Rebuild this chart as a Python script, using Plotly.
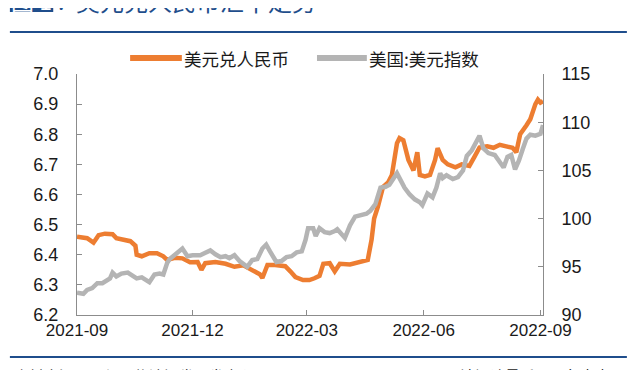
import plotly.graph_objects as go

# USD/CNY (left axis)
cny_dates = ["2021-09-01","2021-09-09","2021-09-14","2021-09-18","2021-09-23","2021-09-29","2021-10-02","2021-10-07",
             "2021-10-13","2021-10-17","2021-10-18","2021-10-22","2021-10-28","2021-11-03","2021-11-08","2021-11-11",
             "2021-11-17","2021-11-23","2021-11-29","2021-12-05","2021-12-08","2021-12-11","2021-12-19","2021-12-27",
             "2021-12-30","2022-01-03","2022-01-10","2022-01-15","2022-01-19","2022-01-23","2022-01-25","2022-01-29",
             "2022-02-04","2022-02-12","2022-02-16","2022-02-20","2022-02-26","2022-03-03","2022-03-07","2022-03-11",
             "2022-03-14","2022-03-19","2022-03-23","2022-03-27","2022-04-04","2022-04-12","2022-04-18","2022-04-21",
             "2022-04-23","2022-04-26","2022-04-30","2022-05-04","2022-05-07","2022-05-11","2022-05-13","2022-05-16",
             "2022-05-20","2022-05-24","2022-05-27","2022-05-29","2022-06-02","2022-06-06","2022-06-10","2022-06-12",
             "2022-06-16","2022-06-20","2022-06-26","2022-07-01","2022-07-07","2022-07-11","2022-07-15","2022-07-21",
             "2022-07-26","2022-07-31","2022-08-04","2022-08-10","2022-08-13","2022-08-16","2022-08-21","2022-08-24",
             "2022-08-28","2022-08-30","2022-09-01","2022-09-03"]
cny_values = [6.460,6.455,6.440,6.465,6.470,6.468,6.455,6.450,
              6.445,6.430,6.400,6.395,6.405,6.405,6.395,6.383,
              6.390,6.388,6.375,6.376,6.350,6.372,6.376,6.370,
              6.365,6.360,6.365,6.355,6.345,6.335,6.323,6.366,
              6.366,6.362,6.345,6.326,6.316,6.316,6.322,6.330,
              6.370,6.372,6.345,6.370,6.368,6.375,6.383,6.450,
              6.520,6.560,6.625,6.640,6.665,6.770,6.787,6.780,
              6.715,6.680,6.740,6.665,6.660,6.665,6.715,6.754,
              6.715,6.700,6.690,6.700,6.695,6.725,6.756,6.760,
              6.755,6.765,6.760,6.755,6.740,6.800,6.830,6.850,
              6.900,6.915,6.905,6.910]

# US dollar index (right axis)
dxy_dates = ["2021-09-01","2021-09-06","2021-09-09","2021-09-13","2021-09-17","2021-09-21","2021-09-27","2021-09-29",
             "2021-10-02","2021-10-06","2021-10-11","2021-10-15","2021-10-18","2021-10-22","2021-10-26","2021-10-28",
             "2021-11-01","2021-11-05","2021-11-08","2021-11-11","2021-11-13","2021-11-17","2021-11-21","2021-11-23",
             "2021-11-27","2021-12-01","2021-12-07","2021-12-11","2021-12-15","2021-12-19","2021-12-23","2021-12-27",
             "2021-12-30","2022-01-03","2022-01-07","2022-01-11","2022-01-13","2022-01-17","2022-01-21","2022-01-25",
             "2022-01-28","2022-01-31","2022-02-02","2022-02-05","2022-02-09","2022-02-13","2022-02-17","2022-02-21",
             "2022-02-25","2022-02-28","2022-03-02","2022-03-06","2022-03-08","2022-03-11","2022-03-15","2022-03-19",
             "2022-03-23","2022-03-25","2022-03-31","2022-04-04","2022-04-08","2022-04-12","2022-04-17","2022-04-20",
             "2022-04-24","2022-04-28","2022-05-02","2022-05-05","2022-05-09","2022-05-11","2022-05-13","2022-05-17",
             "2022-05-21","2022-05-25","2022-05-29","2022-05-31","2022-06-04","2022-06-08","2022-06-11","2022-06-14",
             "2022-06-16","2022-06-19","2022-06-24","2022-06-28","2022-07-02","2022-07-05","2022-07-09","2022-07-13",
             "2022-07-15","2022-07-18","2022-07-22","2022-07-27","2022-07-31","2022-08-03","2022-08-06","2022-08-09",
             "2022-08-12","2022-08-15","2022-08-18","2022-08-21","2022-08-24","2022-08-28","2022-09-01","2022-09-03"]
dxy_values = [92.3,92.2,92.6,92.8,93.3,93.3,93.8,94.4,
              94.0,94.3,94.4,94.0,93.8,93.9,93.5,93.4,
              94.2,94.3,94.2,95.4,95.8,96.2,96.6,96.9,
              96.1,96.2,96.2,96.4,96.7,96.3,96.0,96.1,
              95.9,96.2,95.6,95.2,95.0,95.7,95.8,96.9,
              97.3,96.6,96.2,95.5,95.6,96.0,96.1,96.5,
              96.6,97.8,99.0,99.0,98.2,99.0,98.6,98.5,
              98.7,98.9,98.0,99.3,100.2,100.3,100.5,100.8,
              101.5,103.2,103.3,103.5,104.3,104.7,104.2,103.2,
              102.5,102.0,101.7,101.4,102.6,102.2,103.2,104.7,
              104.2,104.5,104.1,104.3,105.0,106.5,107.1,108.0,
              108.6,107.3,106.8,106.6,105.9,105.3,106.4,106.6,
              105.1,106.0,107.2,108.3,108.7,108.6,108.8,109.7]

series_names = ["美元兑人民币", "美国:美元指数"]
tick_dates = ["2021-09-01", "2021-12-01", "2022-03-01", "2022-06-01", "2022-09-01"]
tick_labels = ["2021-09", "2021-12", "2022-03", "2022-06", "2022-09"]
left_ticks = [6.2, 6.3, 6.4, 6.5, 6.6, 6.7, 6.8, 6.9, 7.0]
right_ticks = [90, 95, 100, 105, 110, 115]

ORANGE = "#ED7D31"
GRAY = "#B4B4B4"
AXIS = "#8C8C8C"
NAVY = "#1F4E8C"
FONT = "Liberation Sans, Arial, Noto Sans CJK SC, sans-serif"
CJK = "Noto Sans CJK SC, sans-serif"

fig = go.Figure()
fig.add_trace(go.Scatter(x=cny_dates, y=cny_values, mode="lines", name=series_names[0],
                         line=dict(color=ORANGE, width=4.5), yaxis="y"))
fig.add_trace(go.Scatter(x=dxy_dates, y=dxy_values, mode="lines", name=series_names[1],
                         line=dict(color=GRAY, width=4.5), yaxis="y2"))

fig.update_layout(
    width=640, height=370,
    margin=dict(l=69, r=105, t=66, b=63),
    paper_bgcolor="white", plot_bgcolor="white",
    font=dict(family=FONT, size=17, color="#1a1a1a"),
    showlegend=False,
    xaxis=dict(type="date", range=["2021-09-01", "2022-09-03"], tickvals=tick_dates, ticktext=tick_labels,
               showgrid=False, showline=True, linecolor=AXIS, linewidth=1, ticks="inside",
               ticklen=5, tickcolor=AXIS, zeroline=False, tickfont=dict(size=17)),
    yaxis=dict(range=[6.2, 7.0], tickvals=left_ticks, tickformat=".1f", showgrid=False,
               showline=True, linecolor=AXIS, linewidth=1, ticks="inside", ticklen=5,
               tickcolor=AXIS, zeroline=False, tickfont=dict(size=18), ticklabelstandoff=14),
    yaxis2=dict(range=[90, 115], tickvals=right_ticks, overlaying="y", side="right", showgrid=False,
                showline=True, linecolor=AXIS, linewidth=1, ticks="inside", ticklen=5,
                tickcolor=AXIS, zeroline=False, tickfont=dict(size=18), ticklabelstandoff=14),
)

# legend drawn by hand (wider swatches than plotly's built-in legend)
legend_y = 1.066
for (sx0, sx1, tx), color, label in zip([(0.114, 0.225, 0.226), (0.515, 0.622, 0.623)],
                                         [ORANGE, GRAY], series_names):
    fig.add_shape(type="line", xref="paper", yref="paper", x0=sx0, x1=sx1, y0=legend_y, y1=legend_y,
                  line=dict(color=color, width=6))
    fig.add_annotation(xref="paper", yref="paper", x=tx, y=legend_y, text=label, showarrow=False,
                       font=dict(family=CJK, size=17.5, color="#1a1a1a"), xanchor="left", yanchor="middle")

# header / footer decorations of the report page
fig.add_shape(type="rect", xref="paper", yref="paper", x0=-0.144, x1=-0.051, y0=1.257, y1=1.36,
              fillcolor=NAVY, line=dict(width=0), layer="above")
fig.add_shape(type="line", xref="paper", yref="paper", x0=-0.144, x1=1.18, y0=1.174, y1=1.174,
              line=dict(color=NAVY, width=2))
fig.add_shape(type="line", xref="paper", yref="paper", x0=-0.144, x1=1.18, y0=-0.174, y1=-0.174,
              line=dict(color=NAVY, width=2))
fig.add_annotation(xref="paper", yref="paper", x=-0.097, y=1.307, text="图 1", showarrow=False,
                   font=dict(family=CJK, size=23, color="white"), xanchor="center", yanchor="middle")
fig.add_annotation(xref="paper", yref="paper", x=-0.044, y=1.307, text=":", showarrow=False,
                   font=dict(family=CJK, size=23, color=NAVY), xanchor="left", yanchor="middle")
fig.add_annotation(xref="paper", yref="paper", x=-0.006, y=1.307, text="美元兑人民币汇率走势", showarrow=False,
                   font=dict(family=CJK, size=24, color=NAVY), xanchor="left", yanchor="middle")
fig.add_annotation(xref="paper", yref="paper", x=-0.14, y=-0.25, text="资料来源：万得，信达证券研发中心",
                   showarrow=False, font=dict(family=CJK, size=15, color="#1a1a1a"), xanchor="left", yanchor="middle")
fig.add_annotation(xref="paper", yref="paper", x=1.18, y=-0.25, text="请阅读最后一页免责声明",
                   showarrow=False, font=dict(family=CJK, size=15, color="#1a1a1a"), xanchor="right", yanchor="middle")

fig.write_html("out.html")
